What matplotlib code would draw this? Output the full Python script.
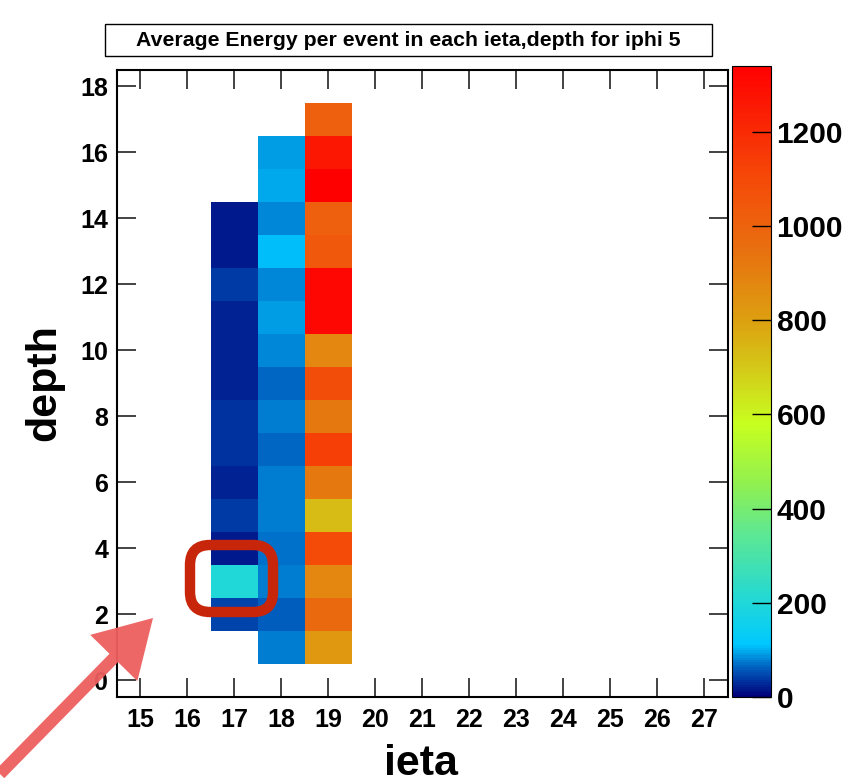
"""
Average energy per event in each ieta/depth cell for iphi 5 (ROOT-style 2D map)
"""

import numpy as np
import matplotlib
matplotlib.use('Agg')
import matplotlib.pyplot as plt
from matplotlib.colors import LinearSegmentedColormap
from matplotlib.patches import Rectangle, FancyBboxPatch, FancyArrow

matplotlib.rcParams['font.family'] = ['Liberation Sans', 'DejaVu Sans']

# data: average energy per cell, listed from the lowest depth upward
ieta_bins = list(range(15, 28))
depth_bins = list(range(0, 19))

ieta17_depths = list(range(2, 15))
ieta17_values = [45, 200, 16, 40, 22, 35, 35, 22, 22, 22, 40, 20, 16]

ieta18_depths = list(range(1, 17))
ieta18_values = [75, 60, 75, 72, 75, 75, 64, 75, 64, 83, 91, 83, 108, 79, 95, 89]

ieta19_depths = list(range(1, 18))
ieta19_values = [825, 974, 875, 1090, 730, 925, 1132, 925, 1080, 875,
                 1314, 1314, 1045, 1013, 1340, 1262, 1013]

z_max = 1340
cbar_ticks = [0, 200, 400, 600, 800, 1000, 1200]

# fill the histogram grid
grid = np.full((len(depth_bins), len(ieta_bins)), np.nan)
for ieta, depths, vals in [(17, ieta17_depths, ieta17_values),
                           (18, ieta18_depths, ieta18_values),
                           (19, ieta19_depths, ieta19_values)]:
    for d, v in zip(depths, vals):
        grid[depth_bins.index(d), ieta_bins.index(ieta)] = v
grid = np.ma.masked_invalid(grid)

# palette similar to the ROOT one in the picture
stops = [(0, '#00007a'), (60, '#0060c0'), (110, '#00c8ff'), (200, '#20d8d8'),
         (350, '#60e890'), (450, '#90f050'), (580, '#c8ff20'), (700, '#d4c818'),
         (800, '#dda010'), (950, '#e87010'), (1100, '#f54a08'), (1340, '#ff0000')]
cmap = LinearSegmentedColormap.from_list('rootpal', [(v / z_max, c) for v, c in stops])

W, H = 859, 783
fig = plt.figure(figsize=(W / 100, H / 100), dpi=100)

ax = fig.add_axes([116.5 / W, 1 - 696.5 / H, 611.5 / W, 627 / H])
x_edges = np.arange(ieta_bins[0] - 0.5, ieta_bins[-1] + 1.0, 1.0)
y_edges = np.arange(depth_bins[0] - 0.5, depth_bins[-1] + 1.0, 1.0)
mesh = ax.pcolormesh(x_edges, y_edges, grid, cmap=cmap, vmin=0, vmax=z_max)

ax.set_xlim(x_edges[0], x_edges[-1])
ax.set_ylim(y_edges[0], y_edges[-1])
ax.set_xticks(ieta_bins)
ax.set_yticks(depth_bins[::2])

ax.tick_params(axis='both', direction='in', top=True, right=True,
               length=14, width=1.2, color='#222222')
ax.tick_params(axis='x', pad=8)
ax.tick_params(axis='y', pad=6)
for lab in ax.get_xticklabels() + ax.get_yticklabels():
    lab.set_fontsize(18)
    lab.set_fontweight('bold')
for s in ax.spines.values():
    s.set_linewidth(1.5)

ax.set_xlabel('ieta', fontsize=31, fontweight='bold')
ax.set_ylabel('depth', fontsize=31, fontweight='bold')
ax.xaxis.set_label_coords(0.498, -0.075)
ax.yaxis.set_label_coords(-0.085, 0.5)

# colour bar
cax = fig.add_axes([732 / W, 1 - 697 / H, 39 / W, 631 / H])
cb = fig.colorbar(mesh, cax=cax, ticks=cbar_ticks)
cb.outline.set_linewidth(0.8)
cax.tick_params(direction='in', length=14, width=1, pad=4)
for lab in cax.get_yticklabels():
    lab.set_fontsize(21.5)
    lab.set_fontweight('bold')

# title box
fig.patches.append(Rectangle((105 / W, 1 - 56 / H), 607 / W, 32 / H,
                             transform=fig.transFigure, facecolor='white',
                             edgecolor='black', linewidth=1.0))
fig.text(408.5 / W, 1 - 40 / H,
         'Average Energy per event in each ieta,depth for iphi 5',
         ha='center', va='center', fontsize=15.3, fontweight='bold')

# hand-drawn highlights (pixel units -> inches)
fig.patches.append(FancyBboxPatch((1.90, (H - 612) / 100), 0.83, 0.67,
                                  boxstyle='round,pad=0,rounding_size=0.2',
                                  transform=fig.dpi_scale_trans, fill=False,
                                  edgecolor='#c8260a', linewidth=7.5))
fig.patches.append(FancyArrow(0.0, (H - 774) / 100, 1.53, 1.56,
                              width=0.12, head_width=0.66, head_length=0.56,
                              length_includes_head=True,
                              transform=fig.dpi_scale_trans,
                              facecolor='#ee5f5f', edgecolor='none', alpha=0.95))

plt.savefig('out.png', dpi=100, facecolor='white')
plt.close()
